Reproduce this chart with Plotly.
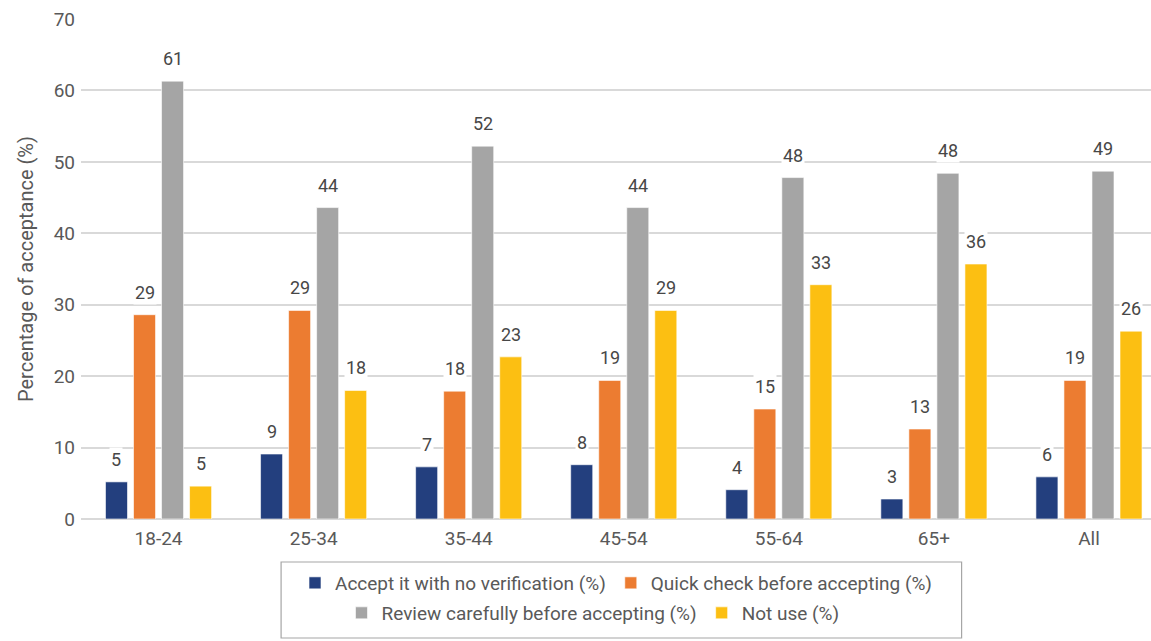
import plotly.graph_objects as go

# Age groups and response shares (%)
age_groups = ["18-24", "25-34", "35-44", "45-54", "55-64", "65+", "All"]
series_names = [
    "Accept it with no verification (%)",
    "Quick check before accepting (%)",
    "Review carefully before accepting (%)",
    "Not use (%)",
]
accept_no_verification = [5.2, 9.1, 7.3, 7.6, 4.1, 2.8, 5.9]
quick_check = [28.6, 29.2, 17.9, 19.4, 15.4, 12.6, 19.4]
review_carefully = [61.3, 43.6, 52.2, 43.6, 47.8, 48.4, 48.7]
not_use = [4.6, 18.0, 22.7, 29.2, 32.8, 35.7, 26.3]
y_ticks = [0, 10, 20, 30, 40, 50, 60, 70]

series_values = [accept_no_verification, quick_check, review_carefully, not_use]
colors = ["#233F7E", "#EC7C31", "#A5A5A5", "#FCBF12"]
legend_ids = ["legend", "legend", "legend2", "legend2"]

FONT = "Roboto, sans-serif"
BARGAP = 0.277
GROUPGAP = 0.214

fig = go.Figure()
for name, vals, col, lg in zip(series_names, series_values, colors, legend_ids):
    fig.add_trace(go.Bar(
        x=age_groups, y=vals, name=name, legend=lg,
        marker=dict(color=col, line=dict(color="rgba(255,255,255,0.6)", width=1)),
    ))

# Value labels above each bar, with a white backing that hides the gridlines
slot = (1 - BARGAP) / len(series_values)
for j, vals in enumerate(series_values):
    off = (j - (len(series_values) - 1) / 2) * slot
    for i, v in enumerate(vals):
        fig.add_annotation(
            x=i + off, y=v, xref="x", yref="y", text=str(int(v + 0.5)),
            showarrow=False, yanchor="bottom", yshift=10, bgcolor="white",
            borderpad=1, font=dict(family=FONT, size=18, color="#474747"),
        )

# Frame around the two legend rows
fig.add_shape(type="rect", xref="paper", yref="paper",
              x0=0.187, x1=0.823, y0=-0.086, y1=-0.238,
              line=dict(color="#A6A6A6", width=1.2), fillcolor="rgba(0,0,0,0)")

fig.update_layout(
    width=1151, height=641,
    margin=dict(l=81, r=0, t=19, b=122),
    paper_bgcolor="white", plot_bgcolor="white",
    barmode="group", bargap=BARGAP, bargroupgap=GROUPGAP,
    font=dict(family=FONT, size=18, color="#595959"),
    xaxis=dict(range=[-0.5, 6.4], showgrid=False, showline=False, zeroline=False,
               ticks="", ticklabelstandoff=6,
               tickfont=dict(size=19, color="#595959")),
    yaxis=dict(range=[0, 70], tickvals=y_ticks, showgrid=True, gridcolor="#D9D9D9",
               gridwidth=1.5, zeroline=True, zerolinecolor="#D9D9D9", zerolinewidth=2,
               showline=False, ticks="", ticklabelstandoff=5,
               tickfont=dict(size=19, color="#595959"),
               title=dict(text="Percentage of acceptance (%)", standoff=14,
                          font=dict(size=20, color="#595959"))),
    legend=dict(orientation="h", x=0.5, xanchor="center", y=-0.09, yanchor="top",
                font=dict(size=19, color="#595959"), itemwidth=30,
                bgcolor="rgba(0,0,0,0)"),
    legend2=dict(orientation="h", x=0.4785, xanchor="center", y=-0.15, yanchor="top",
                 font=dict(size=19, color="#595959"), itemwidth=30,
                 bgcolor="rgba(0,0,0,0)"),
)

fig.write_html("out.html")
